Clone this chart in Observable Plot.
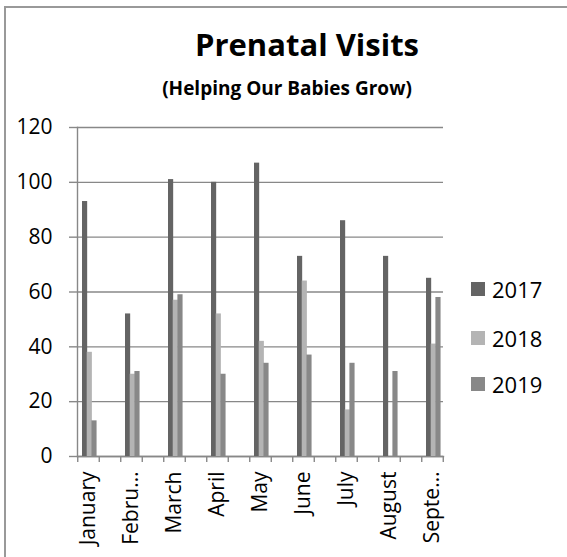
<!DOCTYPE html>
<html>
<head>
<meta charset="utf-8">
<script src="https://cdn.jsdelivr.net/npm/d3@7"></script>
<script src="https://cdn.jsdelivr.net/npm/@observablehq/plot@0.6"></script>
<style>
  html, body { margin: 0; padding: 0; background: #fff; }
  body { width: 567px; height: 557px; position: relative; overflow: hidden; font-family: "Open Sans", sans-serif; }
  #border { position: absolute; left: 4px; top: 6px; right: -10px; bottom: -10px; border-top: 2px solid #999; border-left: 2px solid #999; }
  #chart { position: absolute; left: 0; top: 0; }
  #chart svg text { fill: #000 !important; font-size: 21px !important; font-family: "Open Sans" !important; }
  #chart svg line, #chart svg path { stroke-width: 1.4px; }
  .title { position: absolute; width: 400px; text-align: center; font-weight: bold; line-height: 1; color: #000; white-space: nowrap; }
  #t1 { top: 29px; font-size: 31px; left: 107px; }
  #t2 { top: 79px; font-size: 19px; left: 87px; }
  .leg { position: absolute; left: 471px; display: flex; align-items: center; font-size: 22px; line-height: 1; color: #000; }
  .leg span.sw { width: 14px; height: 14px; margin-right: 7px; display: inline-block; }
</style>
</head>
<body>
<div id="border"></div>
<div id="chart"></div>
<div class="title" id="t1">Prenatal Visits</div>
<div class="title" id="t2">(Helping Our Babies Grow)</div>
<div id="legend"></div>
<script>
// ---- data ----
const months = ["January", "February", "March", "April", "May", "June", "July", "August", "September"];
const monthLabels = ["January", "Febru…", "March", "April", "May", "June", "July", "August", "Septe…"];
const years = ["2017", "2018", "2019"];
const visits2017 = [93, 52, 101, 100, 107, 73, 86, 73, 65];
const visits2018 = [38, 30, 57, 52, 42, 64, 17, 0, 41];
const visits2019 = [13, 31, 59, 30, 34, 37, 34, 31, 58];
const colors = ["#646464", "#b4b4b4", "#888888"];
const yTicks = [0, 20, 40, 60, 80, 100, 120];

const series = [visits2017, visits2018, visits2019];
const W = 567, H = 557;
const mL = 77, mR = 124, mT = 127, mB = 101;
const innerPad = 0.5;
const bw = (W - mL - mR) / (months.length - innerPad) * (1 - innerPad);
const barW = 4.7, lead = 5;
const tickLen = 6 * 120 / (H - mT - mB); // 6px expressed in y units

const rows = [];
series.forEach((vals, k) => months.forEach((m, i) => rows.push({month: m, year: years[k], value: vals[i]})));

const barMarks = years.map((yr, k) => Plot.barY(rows.filter(d => d.year === yr), {
  x: "month", y: "value", fill: colors[k],
  insetLeft: lead + k * barW,
  insetRight: bw - lead - (k + 1) * barW
}));

const plot = Plot.plot({
  width: W, height: H,
  marginLeft: mL, marginRight: mR, marginTop: mT, marginBottom: mB,
  style: {fontFamily: "Open Sans", fontSize: "21px", color: "#888", background: "transparent", overflow: "visible"},
  x: {domain: months, paddingInner: innerPad, paddingOuter: 0, tickSize: 0, tickPadding: 15, tickRotate: -90,
      tickFormat: (m) => monthLabels[months.indexOf(m)], label: null, line: true},
  y: {domain: [0, 120], ticks: yTicks, tickSize: 8, tickPadding: 17, label: null, line: true},
  marks: [
    Plot.ruleY(yTicks, {stroke: "#888", strokeWidth: 1.4}),
    ...barMarks,
    Plot.ruleX(months, {x: d => d, y1: 0, y2: -tickLen, dx: -bw / 2, stroke: "#888", strokeWidth: 1.4, clip: false}),
    Plot.ruleX(months, {x: d => d, y1: 0, y2: -tickLen, dx: bw / 2, stroke: "#888", strokeWidth: 1.4, clip: false})
  ]
});
document.getElementById("chart").appendChild(plot);

// legend
const legendTops = [278, 327, 373];
const leg = document.getElementById("legend");
years.forEach((yr, k) => {
  const row = document.createElement("div");
  row.className = "leg";
  row.style.top = legendTops[k] + "px";
  row.innerHTML = `<span class="sw" style="background:${colors[k]}"></span><span>${yr}</span>`;
  leg.appendChild(row);
});
</script>
</body>
</html>
